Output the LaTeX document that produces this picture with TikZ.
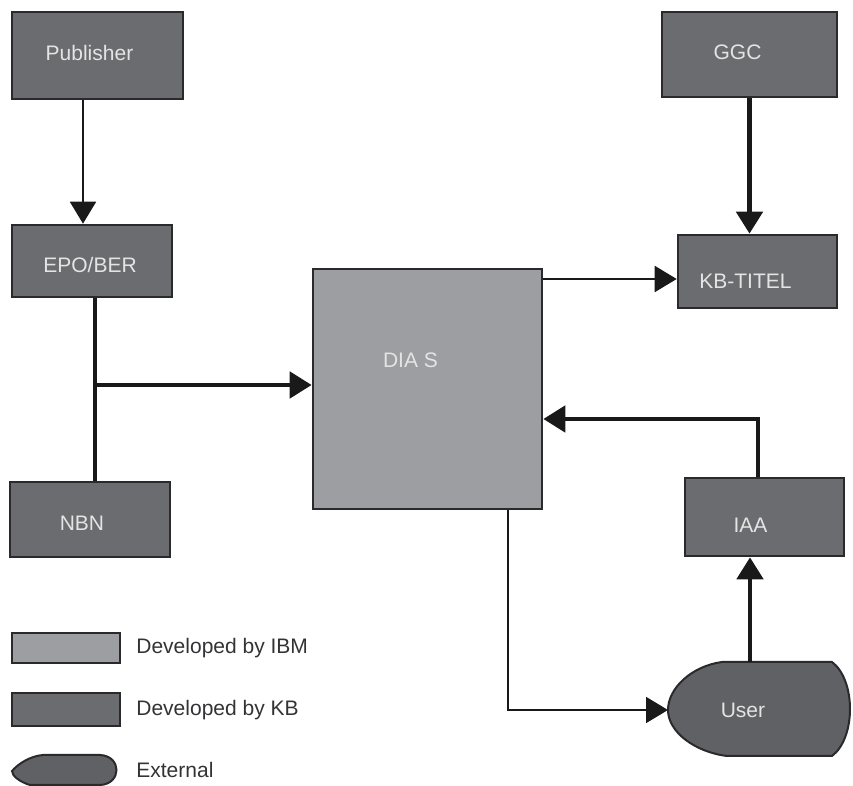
\documentclass[tikz,border=0pt]{standalone}
\usepackage{fontspec}
\setmainfont{Liberation Sans}
\usetikzlibrary{arrows.meta}
\definecolor{kbgray}{HTML}{6B6C70}
\definecolor{ibmgray}{HTML}{9D9EA2}
\definecolor{extgray}{HTML}{606165}
\definecolor{edgegray}{HTML}{2A2A2C}
\definecolor{labelgray}{HTML}{E4E4E4}
\definecolor{legendgray}{HTML}{333335}

\begin{document}
\begin{tikzpicture}[x = 0.5pt, y = -0.5pt, font = \fontsize{10.5}{12}\selectfont,
    every node/.style = {inner sep = 0pt},
    sysbox/.style 2 args = {shape = rectangle, draw = edgegray, line width = 1.3pt,
        minimum width = #1, minimum height = #2, text = labelgray},
    kbbox/.style 2 args = {sysbox = {#1}{#2}, fill = kbgray},
    ibmbox/.style 2 args = {sysbox = {#1}{#2}, fill = ibmgray},
    boxlabel/.style 2 args = {text = labelgray, xshift = #1, yshift = #2},
    extshape/.style = {draw = edgegray, fill = extgray, line width = 1pt},
    flow/.style = {draw = black!90, line width = 1pt, -{Triangle[length = 11pt, width = 13pt]}},
    thickflow/.style = {flow, line width = 2.4pt},
    trunk/.style = {draw = black!90, line width = 2.4pt},
    legtext/.style = {anchor = west, text = legendgray}]
    \useasboundingbox (0, 0) rectangle (853, 786);
    % systems
    \node[kbbox = {85.5pt}{43.5pt}, label = {[boxlabel = {-4pt}{1.5pt}]center:Publisher}] (pub) at (97.5, 55.5) {};
    \node[kbbox = {80pt}{36pt}, label = {[boxlabel = {-1pt}{-2pt}]center:EPO/BER}] (epo) at (92, 261) {};
    \node[kbbox = {80pt}{37.5pt}, label = {[boxlabel = {-4pt}{-2pt}]center:NBN}] (nbn) at (90, 519.5) {};
    \node[kbbox = {87.5pt}{42.5pt}, label = {[boxlabel = {-6pt}{1pt}]center:GGC}] (ggc) at (749.5, 54.5) {};
    \node[kbbox = {79.5pt}{36.5pt}, label = {[boxlabel = {-6pt}{-5pt}]center:KB-TITEL}] (titel) at (757.5, 271.5) {};
    \node[kbbox = {79.5pt}{39pt}, label = {[boxlabel = {-7pt}{-4pt}]center:IAA}] (iaa) at (764.5, 517) {};
    \node[ibmbox = {114.5pt}{120pt}, label = {[boxlabel = {-8.5pt}{14.5pt}]center:DIA S}] (dias) at (427.5, 389) {};
    % external user
    \path[extshape] (722, 662) -- (832, 662) .. controls (856, 680) and (856, 738) .. (832, 756)
        -- (727, 756) .. controls (695, 752) and (668, 732) .. (668, 710)
        .. controls (668, 688) and (692, 666) .. (722, 662) -- cycle;
    \node[text = labelgray] (user) at (743, 710) {User};
    \coordinate (userL) at (668, 710);
    \coordinate (userT) at (750, 662);
    % connectors
    \coordinate (pubout) at ([xshift = -7.25pt]pub.south);
    \draw[flow] (pubout) -- (pubout |- epo.north);
    \coordinate (epoout) at ([xshift = 1.5pt]epo.south);
    \draw[trunk] (epoout) -- (epoout |- nbn.north);
    \coordinate (branch) at (95, 385);
    \draw[thickflow] (branch) -- (branch -| dias.west);
    \coordinate (titelin) at ([yshift = -3.75pt]titel.west);
    \draw[flow] (titelin -| dias.east) -- (titelin);
    \draw[thickflow] (ggc.south) -- (ggc.south |- titel.north);
    \coordinate (iaaout) at ([xshift = -3.25pt]iaa.north);
    \draw[thickflow] (iaaout) |- ([yshift = -15pt]dias.east);
    \draw[thickflow] (userT) -- (userT |- iaa.south);
    \coordinate (diasout) at ([xshift = 40.25pt]dias.south);
    \draw[flow] (diasout) |- (userL);
    % legend
    \node[ibmbox = {54pt}{15pt}] (legibm) at (66, 648) {};
    \node[kbbox = {54pt}{16.5pt}] (legkb) at (66, 709.5) {};
    \path[extshape] (43, 755) -- (100, 755) .. controls (122, 756) and (122, 784) .. (100, 785)
        -- (30, 785) .. controls (20, 782) and (12, 776) .. (12, 771)
        .. controls (18, 764) and (30, 756) .. (43, 755) -- cycle;
    \node[legtext] (legibmtext) at (136, 648) {Developed by IBM};
    \node[legtext] (legkbtext) at (136, 710) {Developed by KB};
    \node[legtext] (legexttext) at (136, 770) {External};
\end{tikzpicture}
\end{document}
